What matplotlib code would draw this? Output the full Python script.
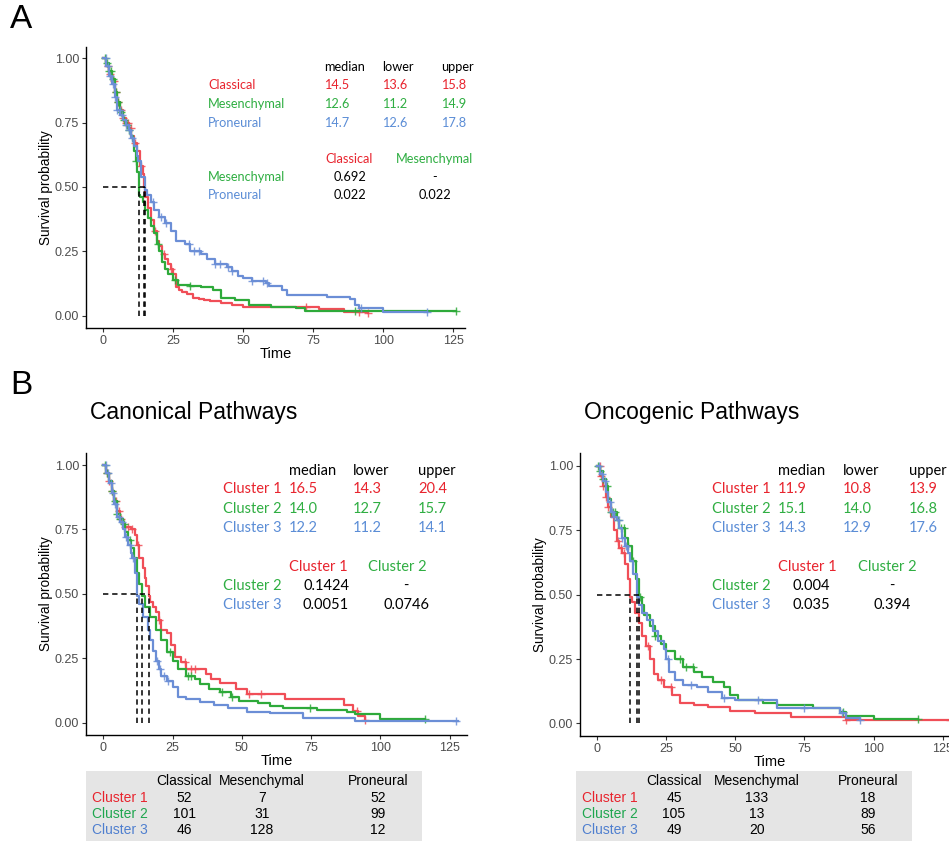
import numpy as np
import matplotlib
matplotlib.use("Agg")
import matplotlib.pyplot as plt
from matplotlib.patches import Rectangle

plt.rcParams["font.family"] = ["Liberation Sans", "DejaVu Sans"]

# ---------------- Panel A: molecular subtypes ----------------
a_groups = ["Classical", "Mesenchymal", "Proneural"]
a_classical_t = [0, 1, 2, 3, 4, 5, 6, 7, 8, 9, 10, 11, 12, 13, 14, 14.5, 15, 16, 17, 18, 19, 20, 21, 22, 23, 24,
                 25, 26, 27, 28, 30, 32, 34, 36, 38, 42, 46, 50, 77, 86, 94.5]
a_classical_s = [1, .97, .94, .91, .87, .83, .80, .77, .75, .73, .70, .67, .64, .58, .55, .50, .46, .42, .37, .33,
                 .29, .27, .24, .22, .20, .18, .16, .11, .10, .09, .085, .07, .065, .06, .055, .05, .04, .035, .027,
                 .013, .010]
a_classical_c = [1.5, 2.2, 3.8, 4.6, 5.4, 6.3, 7.1, 8.0, 8.8, 9.7, 11.2, 13.4, 18.6, 21.5, 24.0, 72.5, 91.5, 94.5]

a_mesen_t = [0, 1, 2, 3, 4, 5, 6, 7, 8, 9, 10, 10.5, 11, 11.5, 12, 12.6, 13, 14, 15, 16, 17, 18, 19, 20, 21, 22,
             23, 25, 26.5, 31, 35, 39, 42, 47, 52, 60, 69, 72, 126]
a_mesen_s = [1, .98, .95, .92, .87, .83, .79, .76, .74, .72, .70, .68, .64, .60, .56, .47, .46, .44, .41, .38, .35,
             .32, .28, .25, .21, .18, .16, .14, .12, .115, .11, .10, .07, .06, .04, .035, .028, .018, .018]
a_mesen_c = [0.5, 1.2, 2.0, 2.8, 3.6, 4.4, 5.3, 6.2, 7.5, 8.4, 9.3, 11.6, 19.5, 25.5, 31.0, 90.0, 126.0]

a_pron_t = [0, 1, 2, 3, 4, 5, 6, 7, 8, 9, 10, 11, 12, 12.5, 13.5, 14.7, 15.5, 17, 18, 20, 22, 24, 26, 29, 31, 35,
            37, 40, 44, 46, 48, 50, 53, 58, 59, 64, 65.5, 80, 88, 90, 91.5, 100, 115.5]
a_pron_s = [1, .97, .93, .90, .85, .80, .78, .76, .74, .72, .69, .66, .62, .60, .54, .49, .47, .44, .41, .385, .36,
            .33, .29, .28, .25, .24, .22, .20, .19, .175, .155, .145, .135, .125, .115, .10, .08, .074, .063, .04,
            .028, .013, .013]
a_pron_c = [0.8, 1.6, 2.5, 3.3, 4.2, 5.0, 5.8, 6.7, 8.2, 9.0, 10.3, 17.8, 20.5, 22.5, 30.5, 32.5, 34.0, 40.0, 41.5,
            44.5, 46.0, 53.0, 57.0, 58.5, 92.0, 115.5]

a_median = [14.5, 12.6, 14.7]
a_lower = [13.6, 11.2, 12.6]
a_upper = [15.8, 14.9, 17.8]
a_pvals = [["0.692", "-"], ["0.022", "0.022"]]

# ---------------- Panel B: pathway clusters ----------------
clusters = ["Cluster 1", "Cluster 2", "Cluster 3"]

can_c1_t = [0, 1, 2, 3, 4, 5, 6, 7, 8, 10, 11.5, 12, 13, 14.5, 15, 15.5, 16.5, 17, 18, 19, 20, 21, 23, 24.5, 26,
            28, 30, 37, 39, 42, 48, 52, 65.5, 87, 90, 92, 94.5]
can_c1_s = [1, .97, .94, .90, .86, .82, .79, .77, .76, .75, .73, .69, .64, .60, .56, .53, .49, .47, .45, .43, .40,
            .36, .35, .30, .255, .235, .21, .19, .17, .155, .13, .11, .09, .07, .045, .025, .01]
can_c1_c = [1.2, 2.0, 3.0, 4.5, 5.5, 6.5, 8.0, 9.0, 10.5, 12.5, 20.0, 29.5, 31.5, 33.0, 52.5, 57.0, 91.5, 94.5]

can_c2_t = [0, 1, 2, 3, 4, 5, 6, 7, 8, 9, 10, 11, 12, 13, 14, 15, 17, 19, 21, 23, 25, 27, 30, 33, 35, 38, 42, 46,
            49, 56, 60, 65, 77, 88, 91, 100, 116]
can_c2_s = [1, .97, .94, .90, .86, .81, .79, .77, .74, .71, .68, .64, .58, .54, .49, .45, .41, .36, .32, .275, .24,
            .21, .18, .17, .15, .13, .12, .10, .085, .075, .065, .055, .05, .043, .032, .016, .016]
can_c2_c = [0.6, 1.5, 3.0, 4.2, 5.0, 6.0, 7.5, 9.5, 24.0, 30.5, 31.5, 43.0, 46.5, 74.5, 116.0]

can_c3_t = [0, 1, 2, 3, 4, 5, 6, 7, 8, 9, 10, 10.5, 11.5, 12.2, 13, 14.5, 16, 17, 18, 19, 20, 21, 23, 25, 27, 30,
            35, 40, 45, 52, 60, 72, 91, 128]
can_c3_s = [1, .97, .93, .89, .85, .80, .78, .75, .72, .69, .66, .64, .58, .49, .46, .41, .36, .32, .28, .24, .21,
            .18, .16, .14, .10, .09, .08, .07, .056, .043, .036, .019, .008, .008]
can_c3_c = [0.8, 1.8, 2.6, 3.4, 4.4, 5.8, 6.8, 8.2, 9.6, 10.8, 19.5, 20.5, 22.0, 23.5, 127.5]

can_median = [16.5, 14.0, 12.2]
can_lower = [14.3, 12.7, 11.2]
can_upper = [20.4, 15.7, 14.1]
can_pvals = [["0.1424", "-"], ["0.0051", "0.0746"]]

onc_c1_t = [0, 1, 2, 3, 4, 5, 6, 7, 8, 9, 10, 11, 11.9, 12.5, 13.5, 15, 16, 17.5, 19, 20.5, 22, 24, 27, 30, 35,
            40, 48, 57, 70, 90, 128]
onc_c1_s = [1, .96, .92, .88, .84, .80, .75, .71, .68, .66, .62, .56, .49, .47, .43, .39, .34, .30, .25, .19, .17,
            .14, .11, .08, .07, .065, .05, .04, .026, .013, .013]
onc_c1_c = [0.8, 1.5, 2.2, 3.2, 4.0, 7.5, 8.5, 9.5, 18.5, 23.0, 26.5, 90.0, 127.5]

onc_c2_t = [0, 1, 2, 3, 4, 5, 7, 8, 10, 11, 12.5, 14, 15.1, 16, 17, 19, 21, 23, 25, 28, 31, 35, 38, 42, 46, 48,
            51, 60, 65, 78, 88, 90, 100, 116]
onc_c2_s = [1, .98, .95, .92, .87, .82, .79, .76, .72, .69, .63, .56, .49, .46, .42, .38, .34, .31, .28, .25, .22,
            .20, .18, .16, .14, .11, .09, .08, .07, .06, .045, .03, .016, .016]
onc_c2_c = [0.4, 1.0, 2.0, 3.5, 5.0, 5.8, 6.5, 7.5, 8.5, 9.8, 11.0, 13.0, 15.5, 21.0, 30.0, 32.0, 34.5, 89.0, 116.0]

onc_c3_t = [0, 1, 2, 3, 4, 5, 6, 7, 8, 9, 10, 11, 12, 13, 14.3, 15, 16, 18, 20, 22, 24, 25, 26, 28, 31, 36, 40,
            45, 50, 65, 88, 90, 95]
onc_c3_s = [1, .97, .94, .90, .86, .82, .80, .79, .76, .72, .69, .66, .63, .58, .49, .46, .43, .40, .36, .32, .29,
            .25, .20, .17, .15, .14, .12, .10, .09, .06, .04, .02, .015]
onc_c3_c = [0.6, 1.6, 2.8, 4.5, 5.2, 6.2, 7.8, 9.0, 10.5, 25.5, 34.0, 46.0, 58.0, 75.0, 88.5, 95.0]

onc_median = [11.9, 15.1, 14.3]
onc_lower = [10.8, 14.0, 12.9]
onc_upper = [13.9, 16.8, 17.6]
onc_pvals = [["0.004", "-"], ["0.035", "0.394"]]

# Cluster membership by subtype
subtypes = ["Classical", "Mesenchymal", "Proneural"]
can_table = [[52, 7, 52], [101, 31, 99], [46, 128, 12]]
onc_table = [[45, 133, 18], [105, 13, 89], [49, 20, 56]]

# ---------------- styling ----------------
W, H = 949, 841
fig = plt.figure(figsize=(W / 100, H / 100), dpi=100)

LINE_COLS = ["#F04E57", "#2EAA3A", "#6B8ED6"]
TEXT_COLS = ["#E8242E", "#2FAE42", "#5B8DD6"]
TABLE_COLS = ["#E8242E", "#1FA64F", "#4F7FCF"]
ANN_FONT = ["Lato", "DejaVu Sans"]


def px_axes(l, t, r, b):
    return fig.add_axes([l / W, 1 - b / H, (r - l) / W, (b - t) / H])


def ftext(x, y, s, **kw):
    kw.setdefault("va", "center")
    fig.text(x / W, 1 - y / H, s, **kw)


def km_panel(ax, curves, medians, xlim, ylim):
    for (times, surv, cens), col in zip(curves, LINE_COLS):
        times = np.asarray(times, float)
        surv = np.asarray(surv, float)
        ax.step(times, surv, where="post", color=col, lw=1.6, zorder=3)
        idx = np.searchsorted(times, cens, side="right") - 1
        ax.plot(cens, surv[idx], ls="none", marker="+", ms=5.5, mew=1.0, color=col, alpha=0.85, zorder=3)
    ax.plot([0, max(medians)], [0.5, 0.5], color="black", lw=1.1, ls=(0, (3.5, 2.5)), zorder=4)
    for m in medians:
        ax.plot([m, m], [0, 0.5], color="black", lw=1.1, ls=(0, (3.5, 2.5)), zorder=4)
    ax.set_xlim(*xlim)
    ax.set_ylim(*ylim)
    ax.set_xticks([0, 25, 50, 75, 100, 125])
    ax.set_yticks([0, 0.25, 0.5, 0.75, 1.0])
    ax.set_yticklabels(["0.00", "0.25", "0.50", "0.75", "1.00"])
    for s in ("top", "right"):
        ax.spines[s].set_visible(False)
    for s in ("left", "bottom"):
        ax.spines[s].set_linewidth(1.0)
    ax.tick_params(length=3, width=0.8, color="#333333", labelcolor="#4D4D4D", labelsize=9, pad=2)
    ax.set_xlabel("Time", fontsize=10.5, labelpad=0)
    ax.set_ylabel("Survival probability", fontsize=9.8, labelpad=1)


def median_block(x_lab, xs_head, y_head, row_ys, names, med, low, up, fs):
    for x, h in zip(xs_head, ["median", "lower", "upper"]):
        ftext(x, y_head, h, fontsize=fs, family=ANN_FONT, color="black")
    for i, (y, n) in enumerate(zip(row_ys, names)):
        ftext(x_lab, y, n, fontsize=fs, family=ANN_FONT, color=TEXT_COLS[i])
        for x, v in zip(xs_head, [med[i], low[i], up[i]]):
            ftext(x, y, f"{v:.1f}", fontsize=fs, family=ANN_FONT, color=TEXT_COLS[i])


def pval_block(x_lab, xs_head, y_head, row_ys, xs_val, names, pvals, fs):
    for j, x in enumerate(xs_head):
        ftext(x, y_head, names[j], fontsize=fs, family=ANN_FONT, color=TEXT_COLS[j])
    for i, y in enumerate(row_ys):
        ftext(x_lab, y, names[i + 1], fontsize=fs, family=ANN_FONT, color=TEXT_COLS[i + 1])
        for x, v in zip(xs_val, pvals[i]):
            ftext(x, y, v, fontsize=fs, family=ANN_FONT, color="black", ha="center")


def count_table(x0, x1, col_xs, lab_x, table):
    fig.patches.append(Rectangle((x0 / W, 0), (x1 - x0) / W, 70 / H, transform=fig.transFigure,
                                 facecolor="#E5E5E5", edgecolor="none", zorder=0))
    for x, s in zip(col_xs, subtypes):
        ftext(x, 781, s, fontsize=10, ha="center")
    for i, y in enumerate([798, 814, 830]):
        ftext(lab_x, y, clusters[i], fontsize=10, color=TABLE_COLS[i])
        for x, v in zip(col_xs, table[i]):
            ftext(x, y, str(v), fontsize=10, ha="center")


# Panel A
axA = px_axes(86, 47, 465, 328)
km_panel(axA, [(a_classical_t, a_classical_s, a_classical_c),
               (a_mesen_t, a_mesen_s, a_mesen_c),
               (a_pron_t, a_pron_s, a_pron_c)],
         a_median, (-6.2, 129.2), (-0.048, 1.044))
median_block(208, [324, 382, 441], 67, [85, 104, 123], a_groups, a_median, a_lower, a_upper, 9.2)
pval_block(208, [325, 396], 159, [177, 195], [350, 435], a_groups, a_pvals, 9.2)

# Panel B, canonical pathways
axB1 = px_axes(86, 453, 467, 735)
km_panel(axB1, [(can_c1_t, can_c1_s, can_c1_c),
                (can_c2_t, can_c2_s, can_c2_c),
                (can_c3_t, can_c3_s, can_c3_c)],
         can_median, (-6.25, 131.3), (-0.048, 1.047))
median_block(223, [289, 353, 418], 471, [489, 509, 528], clusters, can_median, can_lower, can_upper, 10.5)
pval_block(223, [289, 368], 567, [586, 605], [326, 406], clusters, can_pvals, 10.5)

# Panel B, oncogenic pathways
axB2 = px_axes(580, 453, 960, 736)
km_panel(axB2, [(onc_c1_t, onc_c1_s, onc_c1_c),
                (onc_c2_t, onc_c2_s, onc_c2_c),
                (onc_c3_t, onc_c3_s, onc_c3_c)],
         onc_median, (-6.27, 131.3), (-0.049, 1.05))
median_block(712, [778, 843, 909], 471, [489, 509, 528], clusters, onc_median, onc_lower, onc_upper, 10.5)
pval_block(712, [778, 858], 567, [586, 605], [811, 892], clusters, onc_pvals, 10.5)

# Cluster-by-subtype tables
count_table(86, 422, [184, 262, 378], 92, can_table)
count_table(576, 912, [674, 757, 868], 582, onc_table)

# Panel letters and titles
ftext(10, 20, "A", fontsize=24)
ftext(10, 385, "B", fontsize=24)
ftext(90, 412, "Canonical Pathways", fontsize=16.5)
ftext(584, 412, "Oncogenic Pathways", fontsize=16.5)

fig.savefig("out.png", dpi=100)
